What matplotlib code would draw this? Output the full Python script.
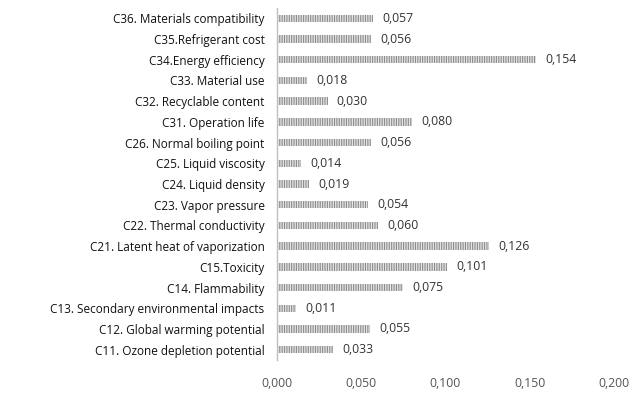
import matplotlib
matplotlib.use("Agg")
import matplotlib.pyplot as plt

labels = [
    "C36. Materials compatibility",
    "C35.Refrigerant cost",
    "C34.Energy efficiency",
    "C33. Material use",
    "C32. Recyclable content",
    "C31. Operation life",
    "C26. Normal boiling point",
    "C25. Liquid viscosity",
    "C24. Liquid density",
    "C23. Vapor pressure",
    "C22. Thermal conductivity",
    "C21. Latent heat of vaporization",
    "C15.Toxicity",
    "C14. Flammability",
    "C13. Secondary environmental impacts",
    "C12. Global warming potential",
    "C11. Ozone depletion potential",
]
values = [0.057, 0.056, 0.154, 0.018, 0.030, 0.080, 0.056, 0.014, 0.019,
          0.054, 0.060, 0.126, 0.101, 0.075, 0.011, 0.055, 0.033]
xticks = [0.0, 0.05, 0.10, 0.15, 0.20]

plt.rcParams['font.family'] = ['Open Sans', 'DejaVu Sans']
plt.rcParams['hatch.linewidth'] = 0.8

fig = plt.figure(figsize=(6.4, 4.0), dpi=100)
ax = fig.add_axes([0.433, 0.10, 0.526, 0.88])

n = len(labels)
ys = list(range(n - 1, -1, -1))
bars = ax.barh(ys, values, height=0.36, color='#e4e4e4', edgecolor='#8c8c8c',
               hatch='|||||||', linewidth=0)
for y, v in zip(ys, values):
    ax.text(v + 0.0055, y, f"{v:.3f}".replace('.', ','), va='center', ha='left',
            fontsize=8.8, color='#333333')

ax.set_yticks(ys)
ax.set_yticklabels(labels, fontsize=8.5, color='#111111')
ax.set_ylim(-0.5, n - 0.5)
ax.set_xlim(0, 0.2)
ax.set_xticks(xticks)
ax.set_xticklabels([f"{t:.3f}".replace('.', ',') for t in xticks], fontsize=8.8, color='#555555')
ax.tick_params(axis='both', length=0)
ax.tick_params(axis='x', pad=12)
ax.tick_params(axis='y', pad=9)
for s in ['top', 'right', 'bottom']:
    ax.spines[s].set_visible(False)
ax.spines['left'].set_color('#bfbfbf')
ax.spines['left'].set_linewidth(1.0)

fig.savefig("out.png", dpi=100)
